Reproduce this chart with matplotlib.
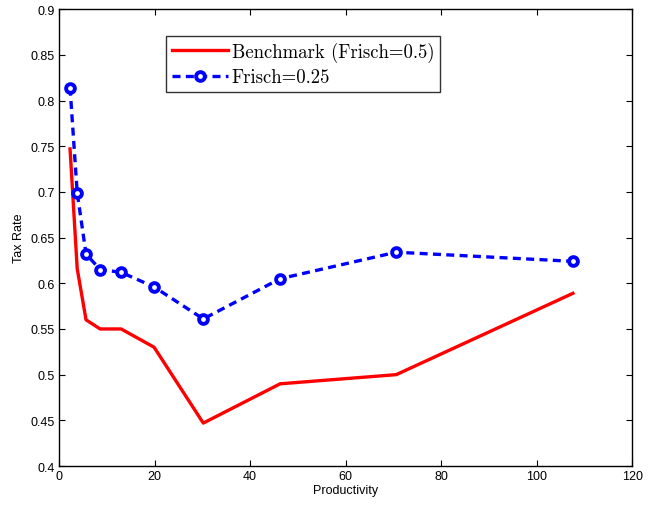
import matplotlib
matplotlib.use("Agg")
import matplotlib.pyplot as plt

# productividad (eje x)
productivity = [2.3, 3.8, 5.65, 8.6, 13.0, 19.9, 30.2, 46.3, 70.6, 107.6]
# tasas marginales
tax_benchmark = [0.747, 0.616, 0.560, 0.550, 0.550, 0.530, 0.447, 0.490, 0.500, 0.589]
tax_frisch025 = [0.814, 0.699, 0.632, 0.615, 0.612, 0.596, 0.561, 0.605, 0.634, 0.624]

plt.rcParams['font.family'] = ['Liberation Sans', 'DejaVu Sans']

fig = plt.figure(figsize=(6.49, 5.06), dpi=100)
ax = fig.add_axes([0.091, 0.077, 0.883, 0.903])

ax.plot(productivity, tax_benchmark, color='red', lw=2.4,
        label='Benchmark (Frisch=0.5)')
ax.plot(productivity, tax_frisch025, color='blue', lw=2.4, ls=(0, (2.4, 1.6)),
        marker='o', ms=6.3, mfc='white', mec='blue', mew=2.8,
        label='Frisch=0.25')

ax.set_xlim(0, 120)
ax.set_ylim(0.4, 0.9)
ax.set_xticks(range(0, 121, 20))
ax.set_yticks([0.4, 0.45, 0.5, 0.55, 0.6, 0.65, 0.7, 0.75, 0.8, 0.85, 0.9])
ax.set_yticklabels(['0.4', '0.45', '0.5', '0.55', '0.6', '0.65', '0.7',
                    '0.75', '0.8', '0.85', '0.9'])
ax.tick_params(direction='in', top=True, right=True, labelsize=9,
               length=4, width=0.8, pad=3)
for s in ax.spines.values():
    s.set_linewidth(1.0)

ax.set_xlabel('Productivity', fontsize=9, labelpad=1)
ax.set_ylabel('Tax Rate', fontsize=9, labelpad=4)

leg = ax.legend(loc='upper left', bbox_to_anchor=(0.187, 0.941),
                prop={'family': 'cmr10', 'size': 13.5},
                frameon=True, fancybox=False, edgecolor='black',
                borderpad=0.3, handlelength=3.0, handletextpad=0.2,
                labelspacing=0.35, borderaxespad=0)
leg.get_frame().set_linewidth(1.0)

fig.savefig('out.png', dpi=100)
